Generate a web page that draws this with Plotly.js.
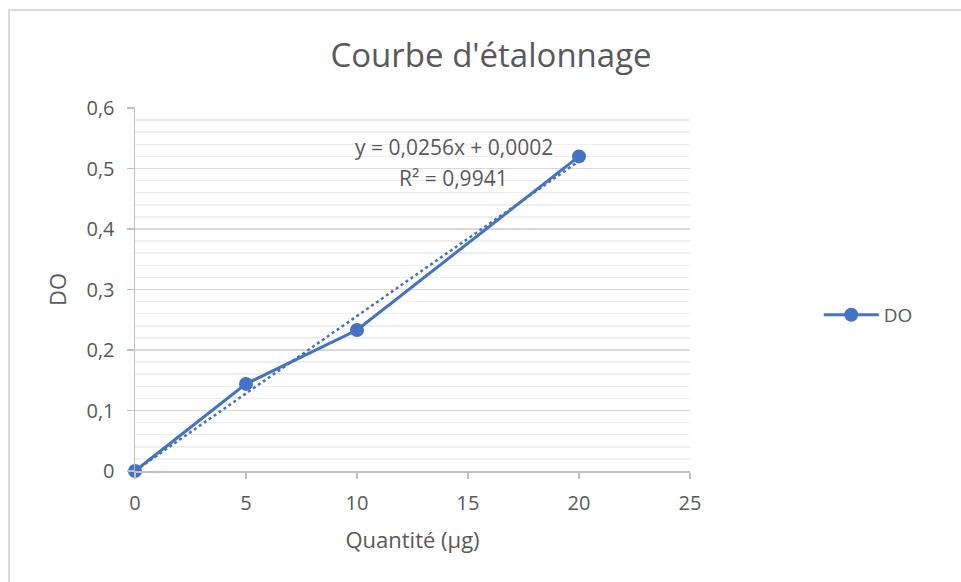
<!DOCTYPE html>
<html>
<head>
<meta charset="utf-8">
<script src="https://cdn.plot.ly/plotly-3.0.1.min.js"></script>
<style>
  html, body { margin: 0; padding: 0; background: #fff; }
  #wrap { position: relative; width: 961px; height: 582px; overflow: hidden; }
  #frame { position: absolute; left: 8px; top: 9px; width: 1000px; height: 1000px;
           border-left: 2px solid #d9d9d9; border-top: 2px solid #d9d9d9; pointer-events: none; }
  #chart { position: absolute; left: 0; top: 0; width: 961px; height: 582px; }
</style>
</head>
<body>
<div id="wrap">
  <div id="chart"></div>
  <div id="frame"></div>
</div>
<script>
// Data
const quantite = [0, 5, 10, 20];
const DO = [0, 0.144, 0.233, 0.52];
const slope = 0.0256;
const intercept = 0.0002;
const r2Label = "R² = 0,9941";
const eqLabel = "y = 0,0256x + 0,0002";
const trendX = [quantite[0], quantite[quantite.length - 1]];
const trendY = trendX.map(x => slope * x + intercept);

const blue = '#4472C4';
const grey = '#595959';
const font = '"Open Sans", sans-serif';

const traces = [
  {
    x: trendX, y: trendY, type: 'scatter', mode: 'lines',
    line: { color: blue, width: 2.5, dash: 'dot' },
    showlegend: false, hoverinfo: 'skip', cliponaxis: false
  },
  {
    x: quantite, y: DO, type: 'scatter', mode: 'lines+markers', name: 'DO',
    line: { color: blue, width: 3 },
    marker: { color: blue, size: 14 }, cliponaxis: false
  }
];

const layout = {
  width: 961, height: 582,
  margin: { l: 135, r: 271, t: 108, b: 111 },
  paper_bgcolor: 'rgba(0,0,0,0)', plot_bgcolor: '#fff',
  separators: ', ',
  font: { family: font, color: grey, size: 20 },
  title: { text: "Courbe d'étalonnage", font: { family: font, size: 33, color: grey },
           x: 0.511, xanchor: 'center', y: 0.905, yanchor: 'middle' },
  xaxis: {
    range: [0, 25], dtick: 5, tick0: 0,
    showgrid: false, zeroline: false,
    showline: true, linecolor: '#bfbfbf', linewidth: 1.5,
    ticks: 'outside', ticklen: 6, tickcolor: '#bfbfbf', tickwidth: 1.5,
    ticklabelstandoff: 7,
    tickfont: { size: 20, color: grey },
    title: { text: 'Quantité (µg)', font: { size: 22, color: grey }, standoff: 18 }
  },
  yaxis: {
    range: [0, 0.6], dtick: 0.1, tick0: 0,
    showgrid: true, gridcolor: '#d9d9d9', gridwidth: 1.5, zeroline: false,
    showline: true, linecolor: '#bfbfbf', linewidth: 1.5,
    ticks: 'outside', ticklen: 7, tickcolor: '#bfbfbf', tickwidth: 1.5,
    ticklabelstandoff: 8,
    tickfont: { size: 20, color: grey },
    minor: { dtick: 0.02, showgrid: true, gridcolor: '#efefef', gridwidth: 1.5 },
    title: { text: 'DO', font: { size: 22, color: grey }, standoff: 14 }
  },
  legend: {
    x: 1.232, xanchor: 'left', y: 0.43, yanchor: 'middle', itemwidth: 55,
    font: { size: 19, color: grey }, bgcolor: 'rgba(0,0,0,0)'
  },
  annotations: [
    { xref: 'x', yref: 'y', x: 14.35, y: 0.5355, text: eqLabel, showarrow: false,
      font: { size: 21, color: grey }, xanchor: 'center', yanchor: 'middle' },
    { xref: 'x', yref: 'y', x: 14.36, y: 0.4843, text: r2Label, showarrow: false,
      font: { size: 21, color: grey }, xanchor: 'center', yanchor: 'middle' }
  ]
};

Plotly.newPlot('chart', traces, layout, { displayModeBar: false, staticPlot: true });
</script>
</body>
</html>
